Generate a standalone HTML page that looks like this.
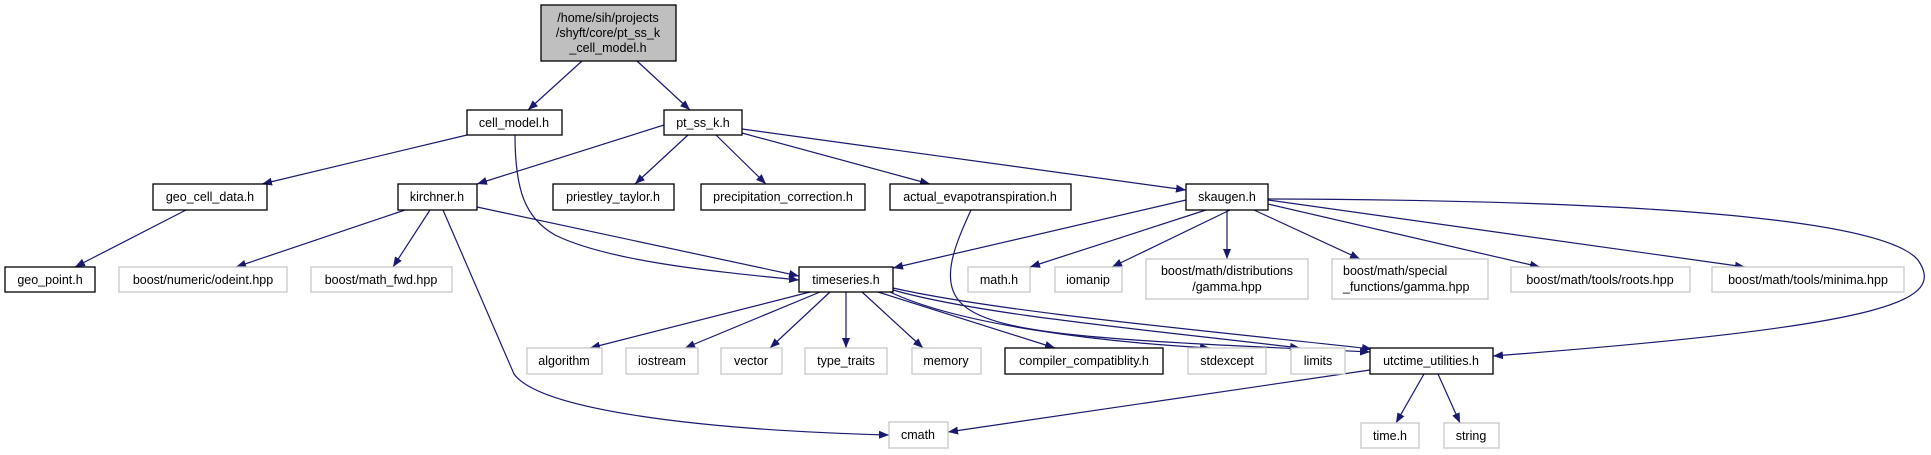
<!DOCTYPE html>
<html><head><meta charset="utf-8"><style>
html,body{margin:0;padding:0;background:#fff;}
svg{display:block;}
text{font-family:"Liberation Sans",sans-serif;font-size:12.5px;fill:#000;}
</style></head><body>
<svg width="1931" height="455" viewBox="0 0 1931 455" xmlns="http://www.w3.org/2000/svg">
<defs>
<marker id="a" viewBox="0 0 10 8" refX="10" refY="4" markerWidth="10" markerHeight="8" markerUnits="userSpaceOnUse" orient="auto">
<path d="M0,0 L10,4 L0,8 z" fill="#191970"/>
</marker>
</defs>
<g fill="none" stroke="#191970" stroke-width="1.2" marker-end="url(#a)">
<path d="M582,61 L528,110"/>
<path d="M637,61 L690,110"/>
<path d="M467,135 L262,184"/>
<path d="M515,135 C515,190 525,218 555,235 C610,262 720,272 799,280"/>
<path d="M664,125 L477,184"/>
<path d="M688,135 L635,184"/>
<path d="M716,135 L766,184"/>
<path d="M742,133 L930,184"/>
<path d="M742,129 L1186,190"/>
<path d="M186,210 L75,267"/>
<path d="M405,210 L236,267"/>
<path d="M430,210 L393,267"/>
<path d="M477,207 L799,276"/>
<path d="M443,210 L514,374 C540,410 700,430 889,435"/>
<path d="M971,210 C955,245 940,280 960,302 C990,335 1100,340 1370,352"/>
<path d="M1186,200 L893,268"/>
<path d="M1206,210 L1030,267"/>
<path d="M1230,210 L1112,267"/>
<path d="M1227,210 L1227,259"/>
<path d="M1254,210 L1360,259"/>
<path d="M1268,204 L1540,267"/>
<path d="M1268,200 L1745,267"/>
<path d="M1268,199 C1600,200 1880,215 1918,260 C1945,300 1900,325 1493,356"/>
<path d="M810,292 L590,348"/>
<path d="M820,292 L685,348"/>
<path d="M830,292 L770,348"/>
<path d="M846,292 L846,348"/>
<path d="M862,292 L923,348"/>
<path d="M878,292 L1055,348"/>
<path d="M890,292 C960,325 1100,342 1210,348"/>
<path d="M893,290 C980,315 1150,330 1300,348"/>
<path d="M893,288 C1000,312 1200,330 1372,349"/>
<path d="M1370,370 L948,432"/>
<path d="M1424,374 L1396,423"/>
<path d="M1438,374 L1460,423"/>
</g>
<g stroke-width="1.3">
<rect x="541" y="5" width="135" height="56" fill="#bfbfbf" stroke="#000"/>
<g fill="#fff" stroke="#000">
<rect x="467" y="110" width="95" height="25"/>
<rect x="664" y="110" width="78" height="25"/>
<rect x="153" y="184" width="114" height="26"/>
<rect x="398" y="184" width="79" height="26"/>
<rect x="553" y="184" width="121" height="26"/>
<rect x="701" y="184" width="164" height="26"/>
<rect x="890" y="184" width="181" height="26"/>
<rect x="1186" y="184" width="82" height="26"/>
<rect x="5" y="267" width="90" height="25"/>
<rect x="799" y="267" width="94" height="25"/>
<rect x="1005" y="348" width="158" height="26"/>
<rect x="1370" y="348" width="123" height="26"/>
</g>
<g fill="#fff" stroke="#c8c8c8">
<rect x="119" y="267" width="168" height="25"/>
<rect x="311" y="267" width="141" height="25"/>
<rect x="968" y="267" width="62" height="25"/>
<rect x="1055" y="267" width="67" height="25"/>
<rect x="1146" y="259" width="162" height="40"/>
<rect x="1332" y="259" width="156" height="40"/>
<rect x="1511" y="267" width="179" height="25"/>
<rect x="1712" y="267" width="192" height="25"/>
<rect x="527" y="348" width="75" height="26"/>
<rect x="626" y="348" width="72" height="26"/>
<rect x="721" y="348" width="61" height="26"/>
<rect x="805" y="348" width="82" height="26"/>
<rect x="912" y="348" width="69" height="26"/>
<rect x="1188" y="348" width="78" height="26"/>
<rect x="1291" y="348" width="54" height="26"/>
<rect x="889" y="422" width="59" height="26"/>
<rect x="1361" y="423" width="58" height="25"/>
<rect x="1444" y="423" width="55" height="25"/>
</g>
</g>
<g text-anchor="middle">
<text x="608" y="22">/home/sih/projects</text>
<text x="608" y="37">/shyft/core/pt_ss_k</text>
<text x="608" y="52">_cell_model.h</text>
<text x="514" y="127">cell_model.h</text>
<text x="703" y="127">pt_ss_k.h</text>
<text x="210" y="201">geo_cell_data.h</text>
<text x="437" y="201">kirchner.h</text>
<text x="613" y="201">priestley_taylor.h</text>
<text x="783" y="201">precipitation_correction.h</text>
<text x="980" y="201">actual_evapotranspiration.h</text>
<text x="1227" y="201">skaugen.h</text>
<text x="50" y="284">geo_point.h</text>
<text x="203" y="284">boost/numeric/odeint.hpp</text>
<text x="381" y="284">boost/math_fwd.hpp</text>
<text x="846" y="284">timeseries.h</text>
<text x="999" y="284">math.h</text>
<text x="1088" y="284">iomanip</text>
<text x="1227" y="275">boost/math/distributions</text>
<text x="1227" y="291">/gamma.hpp</text>
<text x="1600" y="284">boost/math/tools/roots.hpp</text>
<text x="1808" y="284">boost/math/tools/minima.hpp</text>
<text x="564" y="365">algorithm</text>
<text x="662" y="365">iostream</text>
<text x="751" y="365">vector</text>
<text x="846" y="365">type_traits</text>
<text x="946" y="365">memory</text>
<text x="1084" y="365">compiler_compatiblity.h</text>
<text x="1227" y="365">stdexcept</text>
<text x="1318" y="365">limits</text>
<text x="1431" y="365">utctime_utilities.h</text>
<text x="918" y="439">cmath</text>
<text x="1390" y="440">time.h</text>
<text x="1471" y="440">string</text>
</g>
<text x="1343" y="275">boost/math/special</text>
<text x="1343" y="291">_functions/gamma.hpp</text>
</svg>
</body></html>
